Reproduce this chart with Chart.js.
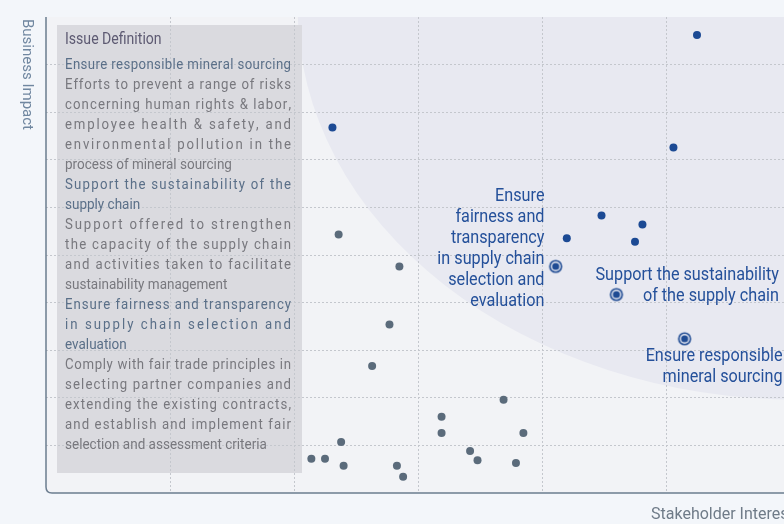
<!DOCTYPE html>
<html>
<head>
<meta charset="utf-8">
<script src="https://cdn.jsdelivr.net/npm/chart.js@4/dist/chart.umd.min.js"></script>
<style>
html, body { margin: 0; padding: 0; background: #f3f6fa; overflow: hidden; }
#wrap { position: absolute; left: 0; top: 0; width: 800px; height: 524px; }
</style>
</head>
<body>
<div id="wrap"><canvas id="graficoMatriz" width="800" height="524"></canvas></div>
<script>
// EIXOS
const xTitulo = 'Stakeholder Interest';
const yTitulo = 'Business Impact';
const xMin = 0, xMax = 6, yMin = 0, yMax = 10;

// outros temas (cinza)
const cinzaX = [2.36, 2.85, 2.77, 2.63, 3.69, 2.14, 2.25, 2.38, 2.40, 2.83, 2.88, 3.19, 3.19, 3.42, 3.48, 3.85, 3.79];
const cinzaY = [5.43, 4.76, 3.54, 2.67, 1.96, 0.72, 0.72, 1.07, 0.57, 0.57, 0.34, 1.60, 1.26, 0.88, 0.69, 1.26, 0.63];

// temas materiais (azul)
const azulX = [5.25, 2.31, 5.06, 4.48, 4.81, 4.20, 4.75];
const azulY = [9.62, 7.68, 7.26, 5.83, 5.64, 5.35, 5.28];

// temas em destaque
const destaqueX = [4.11, 4.60, 5.15];
const destaqueY = [4.76, 4.17, 3.24];
const destaqueRotulos = [
    ['Ensure', 'fairness and', 'transparency', 'in supply chain', 'selection and', 'evaluation'],
    ['Support the sustainability', 'of the supply chain'],
    ['Ensure responsible', 'mineral sourcing']
];

// quadro "Issue Definition"  (tipo: t = tema, d = descrição; 1 = justificado)
const quadroTitulo = 'Issue Definition';
const quadroLinhas = [
    ['t', 1, 'Ensure responsible mineral sourcing'],
    ['d', 1, 'Efforts to prevent a range of risks'],
    ['d', 1, 'concerning human rights & labor,'],
    ['d', 1, 'employee health & safety, and'],
    ['d', 1, 'environmental pollution in the'],
    ['d', 0, 'process of mineral sourcing'],
    ['t', 1, 'Support the sustainability of the'],
    ['t', 0, 'supply chain'],
    ['d', 1, 'Support offered to strengthen'],
    ['d', 1, 'the capacity of the supply chain'],
    ['d', 1, 'and activities taken to facilitate'],
    ['d', 0, 'sustainability management'],
    ['t', 1, 'Ensure fairness and transparency'],
    ['t', 1, 'in supply chain selection and'],
    ['t', 0, 'evaluation'],
    ['d', 1, 'Comply with fair trade principles in'],
    ['d', 1, 'selecting partner companies and'],
    ['d', 1, 'extending the existing contracts,'],
    ['d', 1, 'and establish and implement fair'],
    ['d', 0, 'selection and assessment criteria']
];

const FONTE = 'Roboto, "Open Sans", sans-serif';

// ponto com anel
function alvo() {
    const c = document.createElement('canvas');
    c.width = c.height = 16;
    const g = c.getContext('2d');
    [[6.6, '#1f4b93'], [5.0, '#e9ebf3'], [3.6, '#1f4b93']].forEach(([r, cor]) => {
        g.fillStyle = cor;
        g.beginPath(); g.arc(8, 8, r, 0, Math.PI * 2); g.fill();
    });
    return c;
}

// texto condensado, opcionalmente justificado
function texto(ctx, t, x, y, sx, largura) {
    ctx.save();
    ctx.translate(x, y);
    ctx.scale(sx, 1);
    if (!largura) {
        ctx.fillText(t, 0, 0);
    } else {
        const chars = [...t];
        const ws = chars.map(c => ctx.measureText(c).width);
        const total = ws.reduce((a, b) => a + b, 0);
        const extra = (largura / sx - total) / (chars.length - 1);
        let px = 0;
        chars.forEach((c, i) => { ctx.fillText(c, px, 0); px += ws[i] + extra; });
    }
    ctx.restore();
}

const fundo = {
    id: 'fundo',
    beforeDraw(chart) {
        const { ctx, chartArea: a, scales: { x, y } } = chart;
        ctx.save();
        ctx.fillStyle = '#f2f3f6';
        ctx.fillRect(a.left, a.top, chart.width - a.left, a.bottom - a.top);
        // zona de materialidade
        ctx.beginPath();
        ctx.rect(a.left, a.top, chart.width - a.left, a.bottom - a.top);
        ctx.clip();
        const cx = x.getPixelForValue(6.08), cy = y.getPixelForValue(10.17);
        const rx = cx - x.getPixelForValue(6.08 - 4.05);
        const ry = y.getPixelForValue(10.17 - 8.21) - cy;
        ctx.fillStyle = '#e8e9f1';
        ctx.beginPath();
        ctx.ellipse(cx, cy, rx, ry, 0, 0, Math.PI * 2);
        ctx.fill();
        // quadro
        ctx.fillStyle = '#dadadf';
        ctx.fillRect(a.left + 11, a.top + 8, 245, a.bottom - a.top - 28);
        ctx.restore();
    },
    afterDraw(chart) {
        const { ctx, chartArea: a, scales: { x, y } } = chart;
        ctx.save();
        // eixos
        ctx.strokeStyle = '#6b7d8f';
        ctx.lineWidth = 1.5;
        ctx.beginPath();
        ctx.moveTo(a.left, a.top);
        ctx.lineTo(a.left, a.bottom - 6);
        ctx.quadraticCurveTo(a.left, a.bottom, a.left + 6, a.bottom);
        ctx.lineTo(chart.width, a.bottom);
        ctx.stroke();

        ctx.textBaseline = 'middle';
        ctx.fillStyle = '#6f7b88';
        ctx.font = '16px ' + FONTE;
        ctx.textAlign = 'left';
        ctx.fillText(xTitulo, a.right - 139, a.bottom + 22);
        ctx.font = '15px ' + FONTE;
        ctx.save();
        ctx.translate(a.left - 19, a.top + 2);
        ctx.rotate(Math.PI / 2);
        ctx.fillStyle = '#7087a0';
        ctx.fillText(yTitulo, 0, 0);
        ctx.restore();

        // texto do quadro
        const bx = a.left + 19;
        ctx.fillStyle = '#5d5a72';
        ctx.font = '16px ' + FONTE;
        texto(ctx, quadroTitulo, bx, a.top + 23, 0.88);
        ctx.font = '15px ' + FONTE;
        quadroLinhas.forEach(([tipo, just, t], i) => {
            ctx.fillStyle = tipo === 't' ? '#5a6f88' : '#78787e';
            texto(ctx, t, bx, a.top + 48 + i * 20, just ? 0.88 : 0.9, just ? 226 : 0);
        });

        // rótulos dos temas em destaque
        ctx.fillStyle = '#24509a';
        ctx.font = '18px ' + FONTE;
        ctx.textAlign = 'right';
        const ancoras = [[4.02, 6.27], [5.91, 4.61], [5.94, 2.91]];
        destaqueRotulos.forEach((linhas, k) => {
            const px = x.getPixelForValue(ancoras[k][0]);
            const py = y.getPixelForValue(ancoras[k][1]) + 2;
            linhas.forEach((l, i) => texto(ctx, l, px, py + i * 21, 0.9));
        });
        ctx.restore();
    }
};

const gradeCor = (min, max) => c => (c.tick.value === min || c.tick.value === max) ? 'rgba(0,0,0,0)' : '#c4c7cd';

new Chart(document.getElementById('graficoMatriz'), {
    type: 'scatter',
    data: {
        datasets: [{
            label: 'Outros',
            data: cinzaX.map((v, i) => ({ x: v, y: cinzaY[i] })),
            backgroundColor: '#5b6b7b',
            borderWidth: 0,
            pointRadius: 4
        }, {
            label: 'Materiais',
            data: azulX.map((v, i) => ({ x: v, y: azulY[i] })),
            backgroundColor: '#1c4a94',
            borderWidth: 0,
            pointRadius: 4
        }, {
            label: 'Destaque',
            data: destaqueX.map((v, i) => ({ x: v, y: destaqueY[i] })),
            pointStyle: alvo(),
            pointRadius: 7
        }]
    },
    options: {
        responsive: false,
        animation: false,
        devicePixelRatio: 1,
        layout: { padding: { left: 46, top: 17, right: 10, bottom: 31 } },
        plugins: { legend: { display: false }, tooltip: { enabled: false } },
        scales: {
            x: {
                min: xMin, max: xMax,
                ticks: { display: false, stepSize: 1 },
                grid: { color: gradeCor(xMin, xMax), drawTicks: false, lineWidth: 1 },
                border: { display: false, dash: [2, 2] }
            },
            y: {
                min: yMin, max: yMax,
                ticks: { display: false, stepSize: 1 },
                grid: { color: gradeCor(yMin, yMax), drawTicks: false, lineWidth: 1 },
                border: { display: false, dash: [2, 2] }
            }
        }
    },
    plugins: [fundo]
});
</script>
</body>
</html>
